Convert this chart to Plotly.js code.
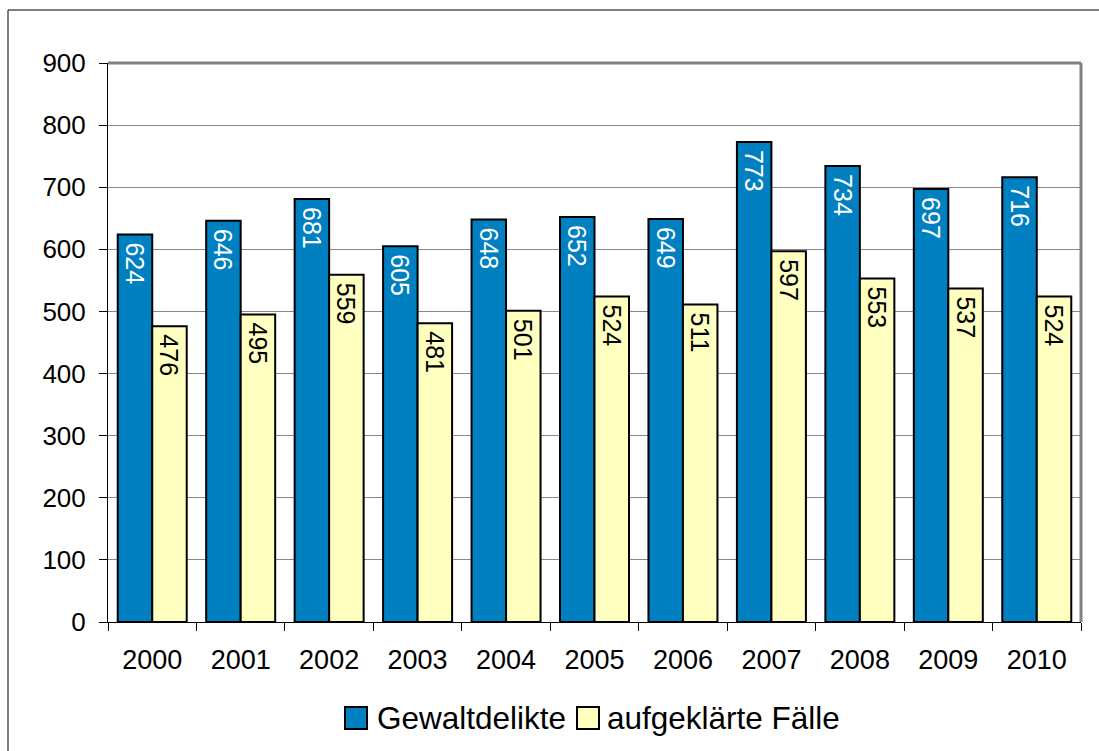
<!DOCTYPE html>
<html>
<head>
<meta charset="utf-8">
<script src="https://cdn.plot.ly/plotly-3.0.1.min.js"></script>
<style>html,body{margin:0;padding:0;background:#fff;}</style>
</head>
<body>
<div id="chart" style="width:1099px;height:751px;"></div>
<script>
const years = ["2000","2001","2002","2003","2004","2005","2006","2007","2008","2009","2010"];
const gewaltdelikte = [624,646,681,605,648,652,649,773,734,697,716];
const aufgeklaerte = [476,495,559,481,501,524,511,597,553,537,524];
const seriesNames = ["Gewaltdelikte","aufgeklärte Fälle"];
const yTicks = [0,100,200,300,400,500,600,700,800,900];

const FONT = "Liberation Sans, Arial, sans-serif";
const COLORS = ["#0080C0", "#FFFFC0"];
const TEXTCOLORS = ["#ffffff", "#000000"];

// plot area in pixels
const L = 108, R = 1081, T = 63, B = 622, W = 1099, H = 751;
const px = v => (v - L) / (R - L);
const py = v => (B - v) / (B - T);

const seriesValues = [gewaltdelikte, aufgeklaerte];
const traces = seriesValues.map((vals, i) => ({
  type: "bar", name: seriesNames[i], x: years, y: vals,
  text: vals.map(v => "\u2009" + v), textposition: "inside", insidetextanchor: "end",
  textangle: 90, constraintext: "none",
  textfont: {family: FONT, size: 25, color: TEXTCOLORS[i]},
  marker: {color: COLORS[i], line: {color: "#000000", width: 2}},
  hoverinfo: "skip", showlegend: false
}));

// legend (manual, to match large square symbols)
const legendItems = [
  {box: [345, 367], textX: 375},
  {box: [577, 599], textX: 605}
];
const legendShapes = legendItems.map((it, i) => ({
  type: "rect", xref: "paper", yref: "paper",
  x0: px(it.box[0]), x1: px(it.box[1]), y0: py(729), y1: py(707),
  line: {color: "#000", width: 2}, fillcolor: COLORS[i]
}));
const legendAnnotations = legendItems.map((it, i) => ({
  xref: "paper", yref: "paper", x: px(it.textX), y: py(718),
  xanchor: "left", yanchor: "middle", showarrow: false,
  text: seriesNames[i], font: {family: FONT, size: 31.5, color: "#000"}
}));

const layout = {
  width: W, height: H,
  margin: {l: L, r: W - R, t: T, b: H - B, pad: 0},
  paper_bgcolor: "#ffffff", plot_bgcolor: "#ffffff",
  font: {family: FONT, size: 25, color: "#000000"},
  barmode: "group", bargap: 0.22, bargroupgap: 0,
  showlegend: false,
  xaxis: {
    type: "category", tickson: "boundaries", ticks: "outside", ticklen: 8, tickcolor: "#000",
    showline: true, linecolor: "#000", linewidth: 1, showgrid: false, automargin: false,
    tickfont: {family: FONT, size: 27}, ticklabelstandoff: 14, fixedrange: true
  },
  yaxis: {
    range: [0, 900], tickvals: yTicks, ticks: "outside", ticklen: 8, tickcolor: "#000",
    showline: true, linecolor: "#000", linewidth: 1, showgrid: true, gridcolor: "#888888", gridwidth: 1,
    zeroline: false, automargin: false, tickfont: {family: FONT, size: 26}, ticklabelstandoff: 8, fixedrange: true
  },
  annotations: legendAnnotations,
  shapes: [
    {type: "line", xref: "paper", yref: "paper", x0: 0, x1: 1, y0: 1, y1: 1, line: {color: "#808080", width: 3}},
    {type: "line", xref: "paper", yref: "paper", x0: 1, x1: 1, y0: 0, y1: 1, line: {color: "#808080", width: 3}},
    {type: "rect", xref: "paper", yref: "paper", x0: px(8), x1: px(1110), y0: py(760), y1: py(10),
     line: {color: "#000", width: 1}, fillcolor: "rgba(0,0,0,0)", layer: "below"}
  ].concat(legendShapes)
};

Plotly.newPlot("chart", traces, layout, {displayModeBar: false, staticPlot: true});
</script>
</body>
</html>
